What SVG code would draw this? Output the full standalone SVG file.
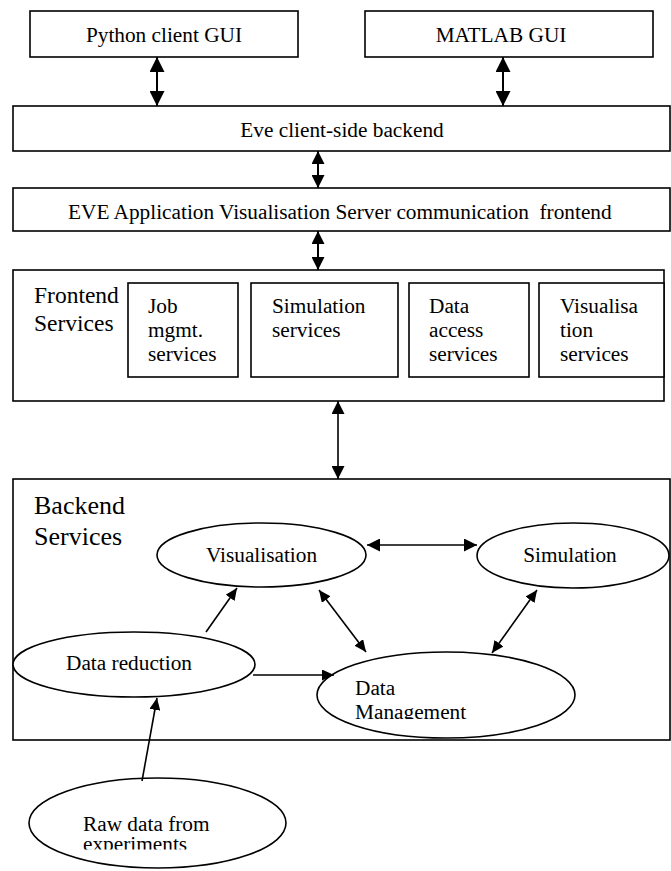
<svg xmlns="http://www.w3.org/2000/svg" width="671" height="871" viewBox="0 0 671 871">
  <style>
    .box { fill: #fff; stroke: #000; stroke-width: 1.6; }
    .oval { fill: #fff; stroke: #000; stroke-width: 1.6; }
    text { font-family: "Liberation Serif", "Times New Roman", serif; font-size: 21.3px; fill: #000; }
    .mid { text-anchor: middle; }
    .big { font-size: 23.5px; }
    .huge { font-size: 26px; }
    .wire { fill: none; stroke: #000; stroke-width: 2; }
    .thin { stroke-width: 1.6; }
  </style>
  <defs>
    <marker id="headL" viewBox="0 0 15 15" markerWidth="15" markerHeight="15" refX="15" refY="7.5" orient="auto-start-reverse" markerUnits="userSpaceOnUse">
      <path d="M0,0 L15,7.5 L0,15 Z" fill="#000"/>
    </marker>
    <marker id="headM" viewBox="0 0 13 13" markerWidth="13" markerHeight="13" refX="13" refY="6.5" orient="auto-start-reverse" markerUnits="userSpaceOnUse">
      <path d="M0,0 L13,6.5 L0,13 Z" fill="#000"/>
    </marker>
    <marker id="headS" viewBox="0 0 12 11" markerWidth="12" markerHeight="11" refX="12" refY="5.5" orient="auto-start-reverse" markerUnits="userSpaceOnUse">
      <path d="M0,0 L12,5.5 L0,11 Z" fill="#000"/>
    </marker>
    <!-- the ellipse text frames cut off the last line -->
    <clipPath id="clipDM"><rect x="300" y="640" width="300" height="79"/></clipPath>
    <clipPath id="clipRaw"><rect x="20" y="770" width="280" height="79.5"/></clipPath>
  </defs>

  <!-- client GUIs -->
  <g id="python-gui">
    <rect class="box" x="30" y="11" width="268" height="46"/>
    <text class="mid" x="164" y="42">Python client GUI</text>
  </g>
  <g id="matlab-gui">
    <rect class="box" x="365" y="11" width="288" height="46"/>
    <text class="mid" x="501" y="42">MATLAB GUI</text>
  </g>

  <!-- client backend and server frontend bars -->
  <g id="client-backend">
    <rect class="box" x="13" y="106" width="657" height="45"/>
    <text class="mid" x="342" y="137">Eve client-side backend</text>
  </g>
  <g id="server-frontend">
    <rect class="box" x="13" y="188" width="657" height="43"/>
    <text x="68" y="219" xml:space="preserve">EVE Application Visualisation Server communication  frontend</text>
  </g>

  <!-- frontend services container -->
  <g id="frontend-services">
    <rect class="box" x="13" y="270" width="651" height="131"/>
    <text class="big" x="34" y="303">Frontend</text>
    <text class="big" x="34" y="331">Services</text>
  </g>
  <g id="job-services">
    <rect class="box" x="128" y="283" width="110" height="94"/>
    <text x="148" y="313">Job</text>
    <text x="148" y="337">mgmt.</text>
    <text x="148" y="361">services</text>
  </g>
  <g id="simulation-services">
    <rect class="box" x="251" y="283" width="147" height="94"/>
    <text x="272" y="313">Simulation</text>
    <text x="272" y="337">services</text>
  </g>
  <g id="data-access-services">
    <rect class="box" x="409" y="283" width="120" height="94"/>
    <text x="429" y="313">Data</text>
    <text x="429" y="337">access</text>
    <text x="429" y="361">services</text>
  </g>
  <g id="visualisation-services">
    <rect class="box" x="539" y="283" width="125" height="94"/>
    <text x="560" y="313">Visualisa</text>
    <text x="560" y="337">tion</text>
    <text x="560" y="361">services</text>
  </g>

  <!-- backend services container -->
  <g id="backend-services">
    <rect class="box" x="13" y="479" width="657" height="261"/>
    <text class="huge" x="34" y="514">Backend</text>
    <text class="huge" x="34" y="545">Services</text>
  </g>
  <g id="visualisation">
    <ellipse class="oval" cx="261.5" cy="555" rx="104.5" ry="32"/>
    <text class="mid" x="261.5" y="562">Visualisation</text>
  </g>
  <g id="simulation">
    <ellipse class="oval" cx="573" cy="555.5" rx="96" ry="32.5"/>
    <text class="mid" x="570" y="562">Simulation</text>
  </g>
  <g id="data-reduction">
    <ellipse class="oval" cx="134" cy="664.5" rx="121" ry="32.5"/>
    <text class="mid" x="129" y="670">Data reduction</text>
  </g>
  <g id="data-management">
    <ellipse class="oval" cx="446" cy="695" rx="129" ry="43"/>
    <g clip-path="url(#clipDM)">
      <text x="355" y="695">Data</text>
      <text x="355" y="719">Management</text>
    </g>
  </g>
  <g id="raw-data">
    <ellipse class="oval" cx="157.5" cy="823" rx="128.5" ry="45"/>
    <g clip-path="url(#clipRaw)">
      <text x="83" y="831">Raw data from</text>
      <text x="83" y="851">experiments</text>
    </g>
  </g>

  <!-- connectors -->
  <g id="connectors">
    <line class="wire" x1="157" y1="57" x2="157" y2="106" marker-start="url(#headL)" marker-end="url(#headL)"/>
    <line class="wire" x1="503" y1="57" x2="503" y2="106" marker-start="url(#headL)" marker-end="url(#headL)"/>
    <line class="wire" x1="318" y1="151" x2="318" y2="188" marker-start="url(#headM)" marker-end="url(#headM)"/>
    <line class="wire" x1="318" y1="231" x2="318" y2="270" marker-start="url(#headM)" marker-end="url(#headM)"/>
    <line class="wire thin" x1="338" y1="401" x2="338" y2="479" marker-start="url(#headM)" marker-end="url(#headM)"/>
    <line class="wire thin" x1="367" y1="545" x2="477" y2="545" marker-start="url(#headM)" marker-end="url(#headM)"/>
    <line class="wire thin" x1="206" y1="632" x2="237" y2="588" marker-end="url(#headS)"/>
    <line class="wire thin" x1="319" y1="590" x2="366" y2="652" marker-start="url(#headS)" marker-end="url(#headS)"/>
    <line class="wire thin" x1="537" y1="590" x2="492" y2="653" marker-start="url(#headS)" marker-end="url(#headS)"/>
    <line class="wire thin" x1="253" y1="675" x2="334" y2="675" marker-end="url(#headS)"/>
    <line class="wire thin" x1="142" y1="781" x2="157" y2="698" marker-end="url(#headS)"/>
  </g>
</svg>
